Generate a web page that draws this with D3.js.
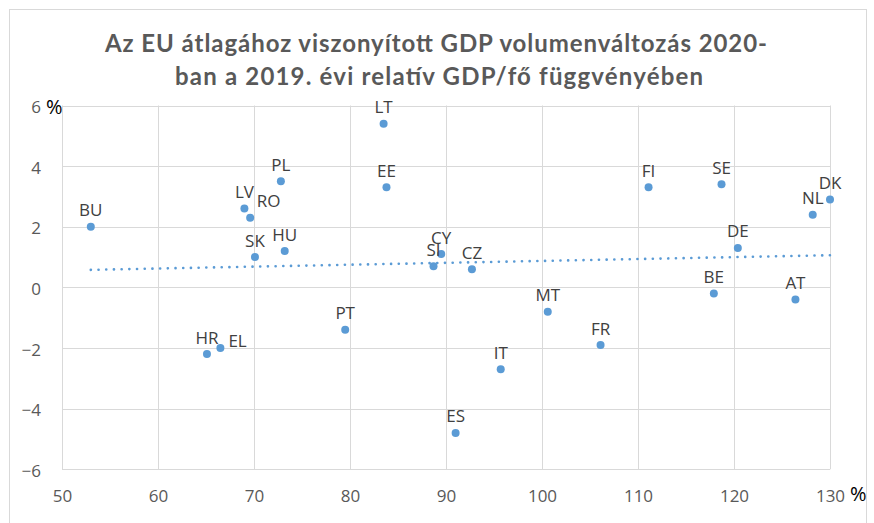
<!DOCTYPE html>
<html><head><meta charset="utf-8">
<script src="https://cdn.jsdelivr.net/npm/d3@7"></script>
<style>html,body{margin:0;padding:0;background:#fff;}svg{display:block;}</style>
</head><body>
<svg id="chart" width="874" height="523"></svg>
<script>
const titleLines = ["Az EU átlagához viszonyított GDP volumenváltozás 2020-", "ban a 2019. évi relatív GDP/fő függvényében"];
const countries = ["BU","LV","RO","PL","SK","HU","LT","EE","CY","SI","CZ","MT","PT","IT","ES","HR","EL","FI","SE","DK","NL","DE","BE","AT","FR"];
const gdpPerCapita = [53.0,69.0,69.6,72.8,70.1,73.2,83.5,83.8,89.5,88.7,92.7,100.6,79.5,95.7,91.0,65.1,66.5,111.1,118.7,130.0,128.2,120.4,117.9,126.4,106.1];
const gdpChange = [2.0,2.6,2.3,3.5,1.0,1.2,5.4,3.3,1.1,0.7,0.6,-0.8,-1.4,-2.7,-4.8,-2.2,-2.0,3.3,3.4,2.9,2.4,1.3,-0.2,-0.4,-1.9];
const xTicks = [50,60,70,80,90,100,110,120,130];
const yTicks = [-6,-4,-2,0,2,4,6];
const labelPlacement = {EL:"right", RO:"aboveRight"};

const svg = d3.select("#chart");
const W = 874, H = 523;
const margin = {left:62, right:44, top:105.5, bottom:53.7};
const x = d3.scaleLinear().domain([50,130]).range([margin.left, W - margin.right]);
const y = d3.scaleLinear().domain([-6,6]).range([H - margin.bottom, margin.top]);

// outer chart border
svg.append("rect").attr("x",9.5).attr("y",9.5).attr("width",857).attr("height",520)
  .attr("fill","none").attr("stroke","#d9d9d9").attr("stroke-width",1);

// title
const titleWidths = [662, 528];
const title = svg.append("text").attr("text-anchor","middle")
  .attr("font-family","Lato, 'Open Sans', sans-serif").attr("font-weight","bold")
  .attr("font-size",24).attr("fill","#595959");
title.selectAll("tspan").data(titleLines).join("tspan")
  .attr("x",(d,i)=> i===0 ? 436 : 439).attr("y",(d,i)=>52+i*33)
  .attr("textLength",(d,i)=>titleWidths[i]).attr("lengthAdjust","spacing")
  .text(d=>d);

// gridlines
const grid = svg.append("g");
grid.selectAll("line.h").data(yTicks).join("line").attr("class","h")
  .attr("x1",x(50)).attr("x2",x(130)).attr("y1",d=>Math.round(y(d))+0.5).attr("y2",d=>Math.round(y(d))+0.5)
  .attr("stroke","#d9d9d9").attr("stroke-width",1);
grid.selectAll("line.v").data(xTicks).join("line").attr("class","v")
  .attr("y1",y(-6)).attr("y2",y(6)).attr("x1",d=>Math.round(x(d))+0.5).attr("x2",d=>Math.round(x(d))+0.5)
  .attr("stroke","#d9d9d9").attr("stroke-width",1);

// axes
const xAxis = d3.axisBottom(x).tickValues(xTicks).tickSize(0).tickPadding(21).tickFormat(d3.format("d"));
const gx = svg.append("g").attr("transform",`translate(0,${y(-6)})`).call(xAxis);
gx.select(".domain").remove();
gx.selectAll("text").attr("font-family","'Open Sans', sans-serif").attr("font-size",17).attr("fill","#595959");

const yAxis = d3.axisLeft(y).tickValues(yTicks).tickSize(0).tickPadding(21).tickFormat(d3.format("d"));
const gy = svg.append("g").attr("transform",`translate(${x(50)},0)`).call(yAxis);
gy.select(".domain").remove();
gy.selectAll("text").attr("font-family","'Open Sans', sans-serif").attr("font-size",17).attr("fill","#595959")
  .attr("dy","0.42em");

// unit labels
svg.append("text").attr("x",46).attr("y",y(6)+8).attr("font-family","'Open Sans', sans-serif")
  .attr("font-size",20).attr("fill","#000").text("%");
svg.append("text").attr("x",850).attr("y",y(-6)+32).attr("font-family","'Open Sans', sans-serif")
  .attr("font-size",20).attr("fill","#000").text("%");

// trendline (least squares)
const n = countries.length;
const mx = d3.mean(gdpPerCapita), my = d3.mean(gdpChange);
let sxy = 0, sxx = 0;
for (let i=0;i<n;i++){ sxy += (gdpPerCapita[i]-mx)*(gdpChange[i]-my); sxx += (gdpPerCapita[i]-mx)**2; }
const slope = sxy/sxx, intercept = my - slope*mx;
const [xmin,xmax] = d3.extent(gdpPerCapita);
svg.append("line").attr("x1",x(xmin)).attr("x2",x(xmax))
  .attr("y1",y(intercept+slope*xmin)).attr("y2",y(intercept+slope*xmax))
  .attr("stroke","#5B9BD5").attr("stroke-width",2.6).attr("stroke-linecap","round")
  .attr("stroke-dasharray","0.1 7.6");

// points
const pts = countries.map((c,i)=>({c, gx:gdpPerCapita[i], gy:gdpChange[i]}));
svg.append("g").selectAll("circle").data(pts).join("circle")
  .attr("cx",d=>x(d.gx)).attr("cy",d=>y(d.gy)).attr("r",4).attr("fill","#5B9BD5");

// labels
svg.append("g").selectAll("text").data(pts).join("text")
  .attr("font-family","'Open Sans', sans-serif").attr("font-size",17).attr("fill","#404040")
  .attr("text-anchor",d=>labelPlacement[d.c] ? "start" : "middle")
  .attr("x",d=>{
    const p = labelPlacement[d.c];
    if (p==="right") return x(d.gx)+8;
    if (p==="aboveRight") return x(d.gx)+6.5;
    return x(d.gx);
  })
  .attr("y",d=>{
    const p = labelPlacement[d.c];
    if (p==="right") return y(d.gy)-1;
    return y(d.gy)-10.5;
  })
  .text(d=>d.c);
</script>
</body></html>
